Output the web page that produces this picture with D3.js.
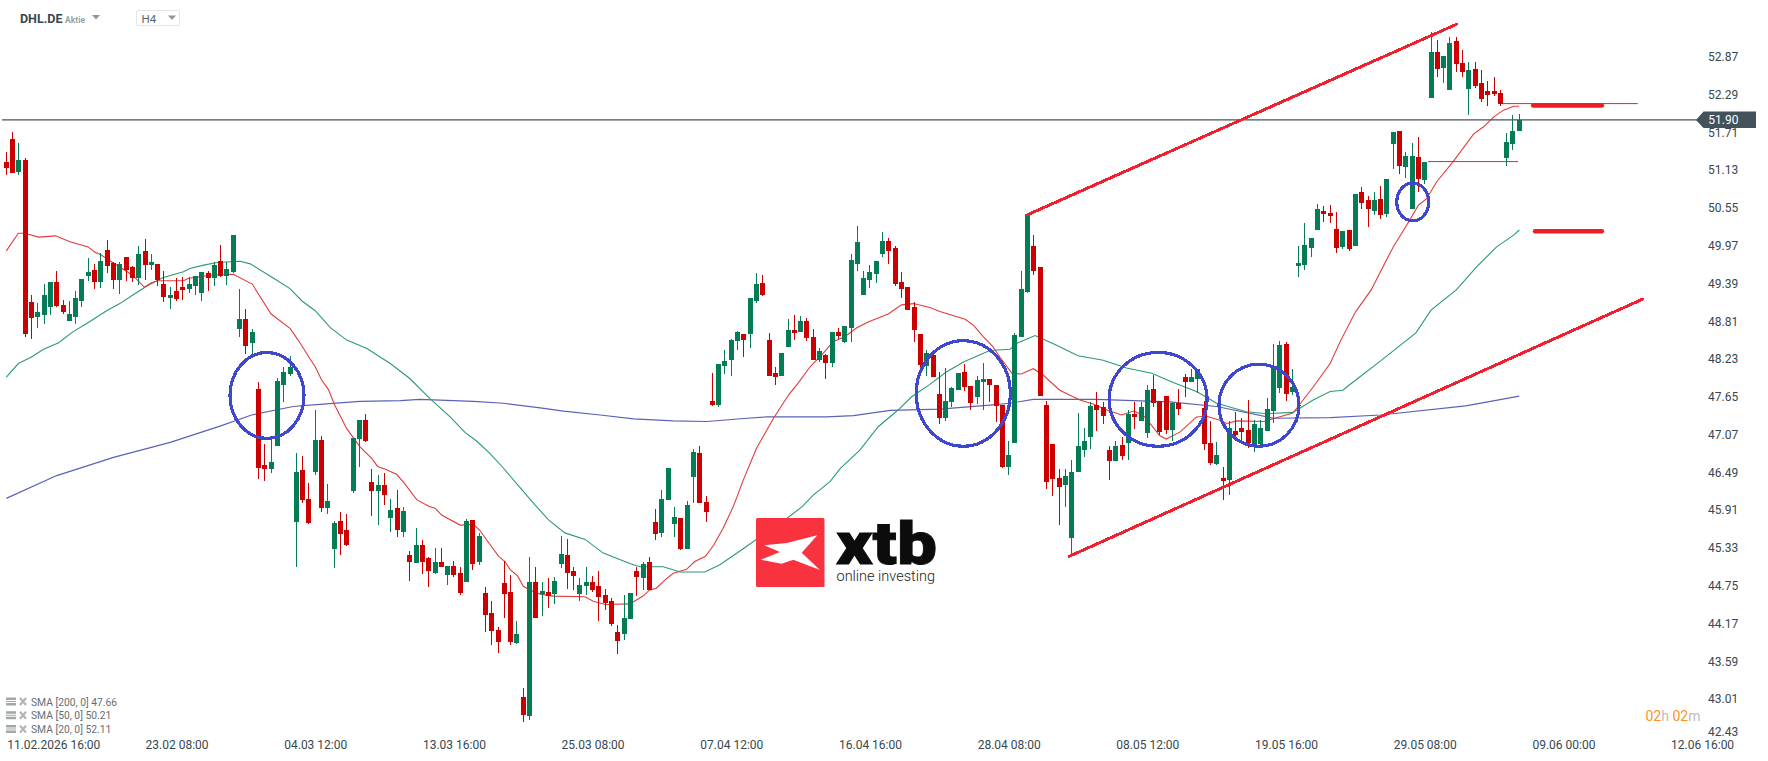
<!DOCTYPE html>
<html>
<head>
<meta charset="utf-8">
<title>DHL.DE H4</title>
<script src="https://cdnjs.cloudflare.com/ajax/libs/d3/7.9.0/d3.min.js"></script>
<style>
  html, body { margin: 0; padding: 0; background: #fff; overflow: hidden; }
  svg { display: block; font-family: Roboto, sans-serif; }
</style>
</head>
<body>
<svg id="chart" width="1768" height="761"></svg>
<script>
// Four-hour OHLC candles, oldest first
const opens = [
51.25,51.61,51.10,51.28,49.10,48.87,48.90,49.03,49.41,49.06,
48.81,48.87,49.12,49.50,49.60,49.41,49.90,49.70,49.44,49.80,
49.64,49.47,49.89,49.67,49.69,49.38,49.17,49.27,49.33,49.30,
49.35,49.24,49.55,49.47,49.73,49.50,49.56,48.69,48.84,48.47,
47.77,46.60,46.54,46.89,47.83,48.00,45.73,46.52,46.08,46.49,
46.98,45.94,45.31,45.74,45.60,46.20,47.00,47.29,46.34,46.20,
46.29,45.79,45.94,45.57,45.22,45.10,45.37,45.17,44.94,45.11,
44.91,45.05,44.94,44.80,45.76,45.11,44.64,44.33,44.07,44.79,
44.65,43.87,43.04,42.75,44.80,44.62,44.65,44.62,45.08,45.22,
44.97,44.62,44.74,44.81,44.74,44.60,44.51,44.04,44.01,44.24,
44.97,44.87,45.11,45.73,45.56,46.06,45.70,45.79,45.31,46.42,
46.79,46.03,47.58,47.52,48.12,48.21,48.51,48.61,48.61,49.12,
49.40,48.52,48.01,47.97,48.41,48.67,48.64,48.81,48.57,48.21,
48.29,48.17,48.64,48.49,48.70,49.69,49.21,49.44,49.53,49.84,
50.04,49.93,49.41,49.33,49.03,48.61,48.12,48.29,47.69,47.32,
47.57,47.75,48.03,47.81,47.65,47.88,47.92,47.83,47.52,46.57,
46.94,48.57,49.26,49.96,49.64,47.52,46.92,46.40,46.29,45.48,
46.49,46.83,47.03,47.52,47.49,46.83,46.66,46.91,46.94,47.38,
47.28,47.09,47.77,47.58,47.66,47.14,47.55,47.95,47.88,47.92,
47.48,46.94,46.62,46.40,46.37,47.12,47.17,47.14,46.92,46.92,
47.12,47.43,47.78,48.46,47.72,49.66,49.67,49.93,50.21,50.50,
50.47,50.22,49.95,50.21,49.96,50.79,50.67,50.50,50.68,50.45,
51.53,51.73,51.18,50.53,51.33,50.98,52.23,52.94,52.70,52.36,
53.11,52.77,52.37,52.68,52.46,52.34,52.34,52.31,51.31,51.53,
51.73];
const highs = [
51.40,51.71,51.55,51.31,49.21,49.09,49.38,49.41,49.58,49.13,
49.12,49.27,49.46,49.78,49.69,49.85,50.06,49.72,49.72,49.80,
49.66,49.96,50.07,49.84,49.69,49.58,49.33,49.47,49.49,49.49,
49.50,49.56,49.58,49.72,49.98,49.72,50.13,49.30,48.99,48.69,
47.88,46.92,46.98,47.94,48.11,48.27,46.78,46.74,46.32,47.45,
47.05,46.31,45.74,45.88,45.85,47.02,47.29,47.38,46.54,46.45,
46.48,46.08,46.22,45.96,45.28,45.63,45.45,45.19,45.33,45.33,
45.05,45.13,45.03,45.77,45.76,45.56,44.73,44.51,44.11,45.13,
44.91,44.21,43.18,45.19,45.03,44.80,44.87,44.88,45.51,45.47,
45.04,44.87,45.04,44.90,44.97,44.70,44.56,44.14,44.60,44.64,
45.04,45.11,45.19,45.93,46.22,46.56,45.96,45.79,46.05,46.85,
46.89,46.13,48.01,48.15,48.37,48.54,48.66,48.61,49.17,49.55,
49.52,48.63,48.11,48.32,48.84,48.90,48.89,48.86,48.69,48.40,
48.31,48.64,48.70,48.74,49.84,50.27,49.58,49.67,49.73,50.18,
50.09,49.96,49.56,49.33,49.10,48.61,48.37,48.37,48.03,48.09,
47.80,48.01,48.15,47.81,47.97,48.17,47.92,47.83,47.52,46.97,
48.63,49.58,50.47,50.13,49.64,47.58,46.92,46.54,46.54,46.68,
47.40,47.17,47.57,47.72,47.57,46.89,46.97,47.03,47.45,47.57,
47.57,47.83,47.98,47.58,47.66,47.57,47.77,48.00,48.08,48.08,
47.58,47.28,46.95,46.57,47.28,47.41,47.32,47.60,47.29,47.29,
47.63,48.46,48.51,48.49,48.08,49.96,50.32,50.09,50.61,50.58,
50.59,50.49,50.19,50.21,50.76,50.87,50.73,50.79,50.88,50.99,
51.71,51.73,51.41,51.54,51.64,51.25,53.25,53.12,52.88,53.17,
53.17,52.97,52.79,52.79,52.66,52.50,52.56,52.36,51.70,51.97,
51.99];
const lows = [
51.05,51.08,51.05,48.57,48.54,48.70,48.77,48.90,49.03,48.92,
48.81,48.77,49.03,49.43,49.30,49.32,49.55,49.30,49.23,49.43,
49.41,49.36,49.44,49.60,49.35,49.10,49.00,49.12,49.13,49.24,
49.21,49.12,49.27,49.35,49.49,49.36,49.55,48.57,48.30,48.30,
46.39,46.35,46.48,46.89,47.57,47.97,45.03,46.02,45.70,46.45,
45.88,45.85,45.02,45.22,45.36,46.17,46.57,46.95,45.82,45.68,
45.99,45.57,45.50,45.50,44.82,45.10,44.93,44.73,44.93,45.03,
44.76,44.88,44.60,44.80,44.99,45.07,44.04,43.84,43.71,44.25,
43.84,43.85,42.65,42.69,44.25,44.28,44.41,44.47,45.02,44.70,
44.68,44.51,44.60,44.65,44.21,44.37,44.13,43.70,43.92,44.24,
44.59,44.68,44.68,45.45,45.50,46.06,45.50,45.30,45.31,46.02,
46.02,45.73,47.51,47.49,48.00,47.97,48.37,48.26,48.40,49.09,
49.20,47.97,47.83,47.97,48.41,48.52,48.64,48.51,48.21,48.18,
47.92,48.11,48.54,48.47,48.49,49.58,49.21,49.32,49.40,49.79,
49.69,49.35,49.17,48.98,48.49,48.06,47.97,47.95,47.23,47.28,
47.49,47.75,47.74,47.45,47.54,47.45,47.57,47.26,46.56,46.45,
46.94,48.57,49.24,49.52,47.66,46.23,46.13,45.68,45.96,45.20,
46.49,46.72,46.85,47.12,47.23,46.37,46.66,46.68,46.68,47.15,
47.28,47.02,47.49,47.06,47.08,46.97,47.37,47.65,47.88,47.71,
46.83,46.60,46.60,46.06,46.14,46.97,46.99,46.86,46.80,46.89,
47.12,47.25,47.71,47.58,47.68,49.49,49.60,49.80,50.21,50.33,
50.32,49.86,49.92,49.89,49.96,50.53,50.25,50.44,50.38,50.41,
51.14,51.07,51.01,50.53,50.79,50.91,52.23,52.56,52.47,52.36,
52.63,52.56,51.97,52.39,52.17,52.11,52.27,52.11,51.19,51.44,
51.73];
const closes = [
51.16,51.08,51.28,48.61,48.86,48.95,49.21,49.41,49.04,48.95,
48.92,49.17,49.46,49.56,49.41,49.73,49.66,49.44,49.69,49.60,
49.47,49.84,49.67,49.72,49.44,49.18,49.21,49.15,49.29,49.38,
49.50,49.56,49.47,49.67,49.50,49.61,50.13,48.84,48.43,48.64,
46.55,46.54,46.65,47.89,48.03,48.11,46.49,46.06,45.71,46.98,
45.94,46.05,45.71,45.54,45.37,47.02,47.29,46.97,46.20,46.29,
46.14,45.91,45.60,45.89,45.11,45.37,45.11,44.97,45.11,45.03,
45.05,44.91,44.64,45.74,45.08,45.51,44.30,44.05,43.88,44.62,
43.88,44.01,42.76,44.80,44.25,44.67,44.59,44.82,45.23,44.94,
44.90,44.76,44.81,44.68,44.57,44.48,44.16,43.90,44.25,44.64,
44.88,45.08,44.68,45.54,46.08,46.56,45.80,45.31,45.99,46.80,
46.02,45.88,47.52,48.15,48.20,48.52,48.64,48.52,49.17,49.38,
49.21,47.97,47.95,48.32,48.67,48.63,48.81,48.55,48.21,48.35,
48.17,48.64,48.58,48.74,49.75,50.03,49.47,49.56,49.73,50.04,
49.89,49.38,49.30,48.98,48.67,48.14,48.32,47.95,47.32,47.58,
47.78,48.01,47.80,47.55,47.91,47.92,47.83,47.51,46.57,46.75,
48.60,49.30,50.46,49.58,47.66,46.34,46.39,46.26,46.43,46.49,
46.89,46.97,47.51,47.45,47.35,46.66,46.89,46.74,47.38,47.34,
47.49,47.75,47.55,47.11,47.14,47.55,47.46,47.88,47.95,48.08,
46.92,46.63,46.75,46.36,47.17,47.06,47.11,46.94,47.23,47.17,
47.46,48.12,48.44,47.69,47.80,49.70,49.98,50.09,50.53,50.45,
50.42,49.93,50.19,49.92,50.76,50.62,50.53,50.67,50.44,50.99,
51.71,51.19,51.34,51.34,50.99,51.25,52.94,52.68,52.88,53.08,
52.76,52.63,52.66,52.42,52.22,52.28,52.30,52.14,51.56,51.73,
51.90];

// Moving averages as [bar number, price] readings
const sma20 = [[0,49.89],[1.9,50.16],[3,50.16],[5.1,50.10],[7.8,50.12],[10.1,50.03],[13,49.95],[14,49.87],[15,49.83],[17,49.70],[20,49.52],[21.9,49.33],[23,49.40],[24,49.43],[28.1,49.43],[28.9,49.47],[32.8,49.52],[36,49.53],[39,49.38],[42,48.92],[45,48.70],[46.3,48.52],[48.1,48.24],[49,48.11],[50,47.91],[51.1,47.76],[52.1,47.52],[54,47.16],[56.1,46.88],[58,46.70],[58.9,46.58],[60.3,46.53],[61.9,46.46],[63,46.34],[65.1,46.07],[67,45.97],[68,45.94],[69.1,45.83],[72,45.68],[74.1,45.69],[75.1,45.60],[76.2,45.45],[78.1,45.20],[79.1,45.12],[79.9,45.00],[81.1,44.90],[82,44.74],[83.3,44.67],[84.7,44.62],[86.8,44.59],[91.8,44.58],[93.1,44.51],[95,44.46],[98.9,44.47],[101,44.59],[102,44.68],[103.1,44.71],[104.5,44.84],[105.8,44.94],[107.9,45.00],[109.2,45.12],[110.9,45.20],[112.2,45.37],[113.7,45.63],[115.3,45.96],[116.9,46.37],[119,46.86],[121.7,47.32],[124.1,47.68],[125.6,47.86],[127.5,48.11],[129.6,48.32],[131.2,48.50],[133,48.57],[134.9,48.71],[136.8,48.80],[139.9,48.92],[142,49.06],[143.9,49.08],[146.5,49.02],[148.1,48.96],[152.1,48.84],[153.4,48.75],[155,48.57],[156.5,48.42],[157.6,48.26],[159.5,48.01],[161,48.00],[162.9,48.08],[164.5,47.98],[167.1,47.75],[170.3,47.60],[172.4,47.54],[174.5,47.45],[176.9,47.37],[178.8,47.43],[180.3,47.37],[181.4,47.24],[183,47.05],[184,47.00],[186.2,47.11],[188.8,47.34],[190.4,47.35],[192.5,47.29],[193.6,47.24],[195.2,47.28],[199.4,47.27],[201.2,47.32],[204.1,47.40],[205.7,47.60],[207.3,47.80],[210,48.16],[211.6,48.50],[214,48.95],[216.5,49.29],[218.4,49.65],[220,49.95],[222.1,50.28],[224,50.59],[225.3,50.69],[226.9,50.95],[229.5,51.26],[232.8,51.69],[234.3,51.79],[236,51.95],[237.5,52.05],[239.1,52.11],[240,52.11]];
const sma50 = [[0,47.95],[1.9,48.16],[4,48.26],[5.9,48.38],[8.3,48.48],[10.6,48.65],[12.7,48.77],[15.9,48.97],[18,49.08],[20.2,49.22],[22.3,49.35],[24.9,49.48],[28.1,49.57],[29.1,49.62],[31.3,49.67],[33.4,49.71],[37.1,49.73],[38.7,49.69],[42.4,49.47],[45,49.31],[46.9,49.12],[49,48.97],[51.4,48.71],[54,48.52],[57.2,48.39],[60.9,48.16],[64,47.93],[67.2,47.62],[70.4,47.34],[72.8,47.10],[74.6,46.97],[76.7,46.78],[78.8,46.56],[81.8,46.22],[83.3,46.05],[86,45.76],[88.6,45.56],[91.8,45.46],[94.7,45.25],[98.9,45.09],[100.5,45.04],[104.2,45.04],[106.9,44.96],[110.8,44.96],[113.2,45.07],[117.4,45.35],[121.7,45.65],[123.8,45.78],[126.2,45.96],[128,46.14],[130.7,46.35],[132.3,46.55],[135.4,46.83],[138.3,47.19],[141.5,47.45],[143.6,47.65],[146.5,47.84],[149.1,48.03],[152,48.19],[156,48.36],[159.2,48.38],[160.5,48.48],[163.2,48.59],[166.6,48.44],[170,48.28],[174,48.21],[177.7,48.09],[181.7,48.01],[185.1,47.87],[188.8,47.73],[192,47.55],[196.7,47.42],[199.9,47.39],[204.1,47.41],[207.3,47.60],[210,47.73],[212,47.75],[213.7,47.88],[218,48.20],[223.6,48.63],[226,48.98],[230,49.29],[233.3,49.65],[236.4,49.95],[239.1,50.13],[240,50.21]];
const sma200 = [[0,46.09],[8,46.44],[17,46.72],[26,46.95],[33.9,47.20],[38.9,47.37],[45.5,47.50],[49.2,47.53],[56.1,47.58],[62.5,47.59],[65.6,47.61],[74.1,47.58],[78.9,47.55],[84.7,47.48],[88.4,47.43],[94.2,47.37],[99.5,47.31],[105.8,47.28],[111.1,47.27],[117.5,47.32],[120.6,47.34],[130.1,47.34],[134.4,47.36],[140.2,47.44],[148.1,47.46],[156,47.52],[159.2,47.55],[162.9,47.61],[172.9,47.61],[184.6,47.57],[192,47.50],[201,47.32],[210,47.33],[218,47.37],[231.5,47.51],[240,47.66]];

// Price axis and time axis labels
const priceTicks = [52.87,52.29,51.71,51.13,50.55,49.97,49.39,48.81,48.23,47.65,47.07,46.49,45.91,45.33,44.75,44.17,43.59,43.01,42.43];
const timeTickBars = [0,27,49,71,93,115,137,159,181,203,225,247,269];
const timeTickLabels = ["11.02.2026 16:00","23.02 08:00","04.03 12:00","13.03 16:00","25.03 08:00","07.04 12:00","16.04 16:00","28.04 08:00","08.05 12:00","19.05 16:00","29.05 08:00","09.06 00:00","12.06 16:00"];
const lastPrice = 51.90;
const legendRows = ["SMA [200, 0] 47.66","SMA [50, 0] 50.21","SMA [20, 0] 52.11"];

// Hand-drawn analysis: channel lines, levels and highlighted zones
const channelLines = [[[161.9,50.44],[230.1,53.37]],[[168.6,45.20],[259.6,49.15]]];
const thinLevels = [[225.5,239.8,51.26],[237.4,258.8,52.15]];
const thickLevels = [[242.2,253.1,52.12],[242.5,253.1,50.19]];
const zones = [[41.35,47.67,5.87,0.66],[151.8,47.70,7.46,0.81],[182.7,47.61,7.77,0.72],[198.7,47.52,6.35,0.63],[223.1,50.64,2.54,0.29]];

const UP = "#047c55", DOWN = "#cc0000";
const INK = "#37474f";

const svg = d3.select("#chart");
const x = d3.scaleLinear().domain([0, 240]).range([6.33, 1519.3]);
const y = d3.scaleLinear().domain([52.87, 43.01]).range([56.7, 699]);

// Moving averages
const line = d3.line().x(d => x(d[0])).y(d => y(d[1]));
[[sma200, "#5a62b8", 1.2], [sma50, "#2b9a72", 1.1], [sma20, "#e23b3b", 1.1]].forEach(([pts, col, w]) => {
  svg.append("path").attr("d", line(pts)).attr("fill", "none").attr("stroke", col).attr("stroke-width", w);
});

// Candles
const bars = d3.range(opens.length);
const candle = svg.append("g").selectAll("g").data(bars).join("g")
  .attr("fill", i => closes[i] >= opens[i] ? UP : DOWN);
candle.append("rect")
  .attr("x", i => Math.floor(x(i)))
  .attr("width", 1)
  .attr("y", i => Math.round(y(highs[i])))
  .attr("height", i => Math.max(1, Math.round(y(lows[i])) - Math.round(y(highs[i]))));
candle.append("rect")
  .attr("x", i => Math.floor(x(i)) - 2)
  .attr("width", 5)
  .attr("y", i => Math.round(y(Math.max(opens[i], closes[i]))))
  .attr("height", i => Math.max(1, Math.round(y(Math.min(opens[i], closes[i]))) - Math.round(y(Math.max(opens[i], closes[i])))));

// Last price line
svg.append("line").attr("x1", 2).attr("x2", 1697).attr("y1", y(lastPrice)).attr("y2", y(lastPrice))
  .attr("stroke", "#46545c").attr("stroke-width", 1.3);

// Channel lines and price levels
svg.append("g").selectAll("line").data(channelLines).join("line")
  .attr("x1", d => x(d[0][0])).attr("y1", d => y(d[0][1]))
  .attr("x2", d => x(d[1][0])).attr("y2", d => y(d[1][1]))
  .attr("stroke", "#f0202e").attr("stroke-width", 3).attr("stroke-linecap", "round")
  .attr("shape-rendering", "crispEdges");
svg.append("g").selectAll("line").data(thinLevels).join("line")
  .attr("x1", d => x(d[0])).attr("x2", d => x(d[1]))
  .attr("y1", d => y(d[2])).attr("y2", d => y(d[2]))
  .attr("stroke", "#e02630").attr("stroke-width", 1);
svg.append("g").selectAll("line").data(thickLevels).join("line")
  .attr("x1", d => x(d[0])).attr("x2", d => x(d[1]))
  .attr("y1", d => y(d[2])).attr("y2", d => y(d[2]))
  .attr("stroke", "#ee1c25").attr("stroke-width", 4.5).attr("stroke-linecap", "round");

// Highlighted zones
svg.append("g").selectAll("ellipse").data(zones).join("ellipse")
  .attr("cx", d => x(d[0])).attr("cy", d => y(d[1]))
  .attr("rx", d => x(d[2]) - x(0)).attr("ry", d => y(0) - y(d[3]))
  .attr("fill", "none").attr("stroke", "#3f48cc").attr("stroke-width", 3.2)
  .attr("shape-rendering", "crispEdges");

// Price axis
const yAxis = d3.axisRight(y).tickValues(priceTicks).tickSize(0).tickPadding(0).tickFormat(d3.format(".2f"));
const gy = svg.append("g").attr("transform", "translate(1708,0)").call(yAxis);
gy.select(".domain").remove();
gy.selectAll("text").attr("fill", INK).attr("font-size", 12).attr("font-family", "Roboto, sans-serif");
// The lowest label is held inside the plot's bottom edge
gy.selectAll(".tick").filter(d => d === 42.43).attr("transform", "translate(0,732)");

// Time axis
const xAxis = d3.axisBottom(x).tickValues(timeTickBars).tickSize(0).tickPadding(0)
  .tickFormat((d, i) => timeTickLabels[i]);
const gx = svg.append("g").attr("transform", "translate(0,740)").call(xAxis);
gx.select(".domain").remove();
gx.selectAll("text").attr("fill", INK).attr("font-size", 12).attr("font-family", "Roboto, sans-serif")
  .attr("dy", "0.71em");
gx.selectAll(".tick").filter(d => d === 0).select("text").attr("text-anchor", "start").attr("dx", 0.4);

// Last price tag
const tagY = y(lastPrice);
svg.append("path")
  .attr("d", d3.line()([[1696, tagY], [1703.5, tagY - 8.5], [1756, tagY - 8.5], [1756, tagY + 8], [1703.5, tagY + 8]]) + "Z")
  .attr("fill", "#44525c");
svg.append("text").attr("x", 1708.3).attr("y", tagY).attr("dy", "0.32em")
  .attr("fill", "#fff").attr("font-size", 12).text(d3.format(".2f")(lastPrice));

// Instrument header
svg.append("text").attr("x", 20).attr("y", 23).attr("font-size", 12.5).attr("font-weight", 700).attr("fill", "#37474f").text("DHL.DE");
svg.append("text").attr("x", 65).attr("y", 22.5).attr("font-size", 8.5).attr("font-weight", 700).attr("fill", "#9aa3a8").text("Aktie");
svg.append("path").attr("d", "M92,15H100L96,19.5Z").attr("fill", "#8e979c");
svg.append("rect").attr("x", 136.5).attr("y", 10.5).attr("width", 43).attr("height", 15).attr("rx", 1.5)
  .attr("fill", "#fff").attr("stroke", "#e3e6e8");
svg.append("text").attr("x", 141.5).attr("y", 23).attr("font-size", 11.5).attr("fill", "#5a666d").text("H4");
svg.append("path").attr("d", "M168,15.5H176L172,20Z").attr("fill", "#8e979c");

// Indicator legend
const legend = svg.append("g").selectAll("g").data(legendRows).join("g")
  .attr("transform", (d, i) => `translate(0,${702 + i * 13.8})`);
legend.append("path").attr("d", "M6,-4.5H16V-2H6ZM6,-1H16V0H6ZM6,1H16V3.5H6Z").attr("fill", "#a2a7aa");
legend.append("path").attr("d", "M20,-4L26,3M26,-4L20,3").attr("stroke", "#b0b4b6").attr("stroke-width", 2.2);
legend.append("text").attr("x", 31).attr("dy", "0.35em").attr("font-size", 10.3).attr("fill", "#666e73").text(d => d);

// Countdown to the next bar
const timer = svg.append("text").attr("x", 1645.5).attr("y", 721).attr("font-size", 14);
[["02", "#f7931e"], ["h", "#bdbdbd"], [" 02", "#f7931e"], ["m", "#bdbdbd"]].forEach(([s, c]) => {
  timer.append("tspan").attr("fill", c).attr("xml:space", "preserve").text(s);
});

// Brand mark
const logo = svg.append("g").attr("transform", "translate(756,518)");
logo.append("rect").attr("width", 68.5).attr("height", 69).attr("rx", 1.5).attr("fill", "#f93240");
logo.append("path").attr("fill", "#fff")
  .attr("d", d3.line()([[8,27.3],[30.7,25],[61.3,17.3],[45.7,34.7],[64,52],[37.3,41.7],[25.7,45.7],[4.7,41.7],[24,34]]) + "Z");
svg.append("text").attr("x", 836).attr("y", 563.5).attr("font-size", 60).attr("font-weight", 900)
  .attr("fill", "#0c0c0c").attr("stroke", "#0c0c0c").attr("stroke-width", 0.8)
  .attr("textLength", 101).attr("lengthAdjust", "spacingAndGlyphs").text("xtb");
svg.append("text").attr("x", 836.5).attr("y", 581).attr("font-size", 15).attr("font-weight", 300)
  .attr("fill", "#1a1a1a").attr("textLength", 98.5).attr("lengthAdjust", "spacingAndGlyphs").text("online investing");
</script>
</body>
</html>
